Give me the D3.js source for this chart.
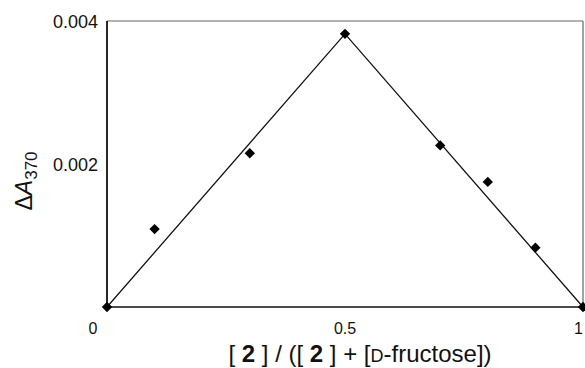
<!DOCTYPE html>
<html>
<head>
<meta charset="utf-8">
<script src="https://cdn.jsdelivr.net/npm/d3@7"></script>
<style>
  html, body { margin: 0; padding: 0; background: #fff; }
  svg { display: block; font-family: "Liberation Sans", Arial, Helvetica, sans-serif; }
</style>
</head>
<body>
<svg id="chart" width="585" height="368"></svg>
<script>
// Job plot: mole fraction of 2 vs. absorbance change at 370 nm
const moleFraction = [0, 0.1, 0.3, 0.5, 0.7, 0.8, 0.9, 1.0];
const deltaA = [0, 0.00109, 0.00215, 0.00382, 0.00226, 0.00175, 0.00083, 0];

// Triangular fit through the maximum
const fitX = [0, 0.5, 1.0];
const fitY = [0, 0.00382, 0];

const xTicks = [0, 0.5, 1];
const xTickLabels = ["0", "0.5", "1"];
const yTicks = [0.002, 0.004];
const yTickLabels = ["0.002", "0.004"];

const svg = d3.select("#chart");
const plot = { left: 107, right: 583, top: 21, bottom: 307 };

const x = d3.scaleLinear().domain([0, 1]).range([plot.left, plot.right]);
const y = d3.scaleLinear().domain([0, 0.004]).range([plot.bottom, plot.top]);

// Frame
svg.append("line").attr("x1", plot.left).attr("x2", plot.right)
  .attr("y1", plot.top).attr("y2", plot.top)
  .attr("stroke", "#666").attr("stroke-width", 1.2);
svg.append("line").attr("x1", plot.right).attr("x2", plot.right)
  .attr("y1", plot.top).attr("y2", plot.bottom)
  .attr("stroke", "#666").attr("stroke-width", 1.2);
svg.append("line").attr("x1", plot.left).attr("x2", plot.right)
  .attr("y1", plot.bottom).attr("y2", plot.bottom)
  .attr("stroke", "#111").attr("stroke-width", 1.5);
svg.append("line").attr("x1", plot.left).attr("x2", plot.left)
  .attr("y1", plot.top).attr("y2", plot.bottom)
  .attr("stroke", "#111").attr("stroke-width", 1.8);

// Y tick labels
svg.append("g").selectAll("text").data(yTicks).join("text")
  .attr("x", 98)
  .attr("y", d => y(d) + 2)
  .attr("text-anchor", "end")
  .attr("dominant-baseline", "middle")
  .attr("font-size", 18)
  .attr("fill", "#111")
  .text((d, i) => yTickLabels[i]);

// X tick labels
const xLabelShift = [-14, 0, 0];
const xLabelAnchor = ["middle", "middle", "end"];
svg.append("g").selectAll("text").data(xTicks).join("text")
  .attr("x", (d, i) => x(d) + xLabelShift[i])
  .attr("y", 334)
  .attr("text-anchor", (d, i) => xLabelAnchor[i])
  .attr("font-size", 16)
  .attr("fill", "#111")
  .text((d, i) => xTickLabels[i]);

// Fit line
const line = d3.line().x(d => x(d[0])).y(d => y(d[1]));
svg.append("path")
  .datum(fitX.map((v, i) => [v, fitY[i]]))
  .attr("d", line)
  .attr("fill", "none")
  .attr("stroke", "#111")
  .attr("stroke-width", 1.3);

// Data markers (diamonds)
svg.append("g").selectAll("path").data(moleFraction).join("path")
  .attr("transform", (d, i) => `translate(${x(d)},${y(deltaA[i])})`)
  .attr("d", d3.symbol().type(d3.symbolDiamond2).size(68))
  .attr("fill", "#000");

// X axis title
const xt = svg.append("text")
  .attr("x", 360).attr("y", 362)
  .attr("text-anchor", "middle")
  .attr("font-size", 24)
  .attr("fill", "#111");
xt.append("tspan").text("[ ");
xt.append("tspan").attr("font-weight", "bold").text("2");
xt.append("tspan").text(" ] / ([ ");
xt.append("tspan").attr("font-weight", "bold").text("2");
xt.append("tspan").text(" ] + [");
xt.append("tspan").attr("font-size", 18).text("D");
xt.append("tspan").text("-fructose])");

// Y axis title
const yt = svg.append("text")
  .attr("transform", "translate(32,181) rotate(-90)")
  .attr("text-anchor", "middle")
  .attr("font-size", 23)
  .attr("fill", "#111");
yt.append("tspan").text("\u0394");
yt.append("tspan").attr("font-style", "italic").text("A");
yt.append("tspan").attr("font-size", 17).attr("dy", 5).text("370");
</script>
</body>
</html>
